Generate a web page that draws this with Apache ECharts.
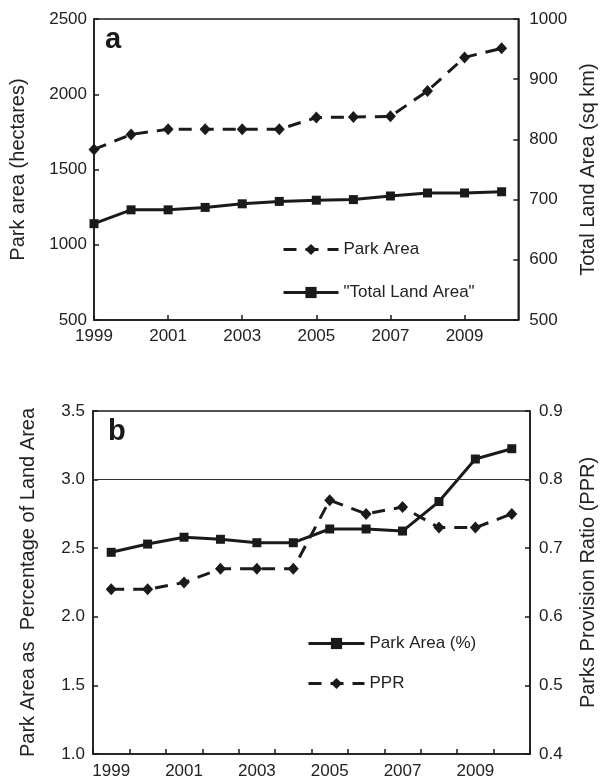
<!DOCTYPE html>
<html>
<head>
<meta charset="utf-8">
<script src="https://cdn.jsdelivr.net/npm/echarts@6/dist/echarts.min.js"></script>
<style>
html,body{margin:0;padding:0;background:#fff;}
#c{width:606px;height:783px;}
</style>
</head>
<body>
<div id="c"></div>
<script>
// ---- data ----
const years = [1999, 2000, 2001, 2002, 2003, 2004, 2005, 2006, 2007, 2008, 2009, 2010];
const parkAreaHa = [1633, 1733, 1767, 1767, 1767, 1767, 1845, 1849, 1853, 2022, 2245, 2305];
const totalLandArea = [660, 683, 683, 687, 693, 697, 699, 700, 706, 711, 711, 713];
const parkAreaPct = [2.47, 2.53, 2.58, 2.565, 2.54, 2.54, 2.64, 2.64, 2.625, 2.84, 3.15, 3.225];
const pprValues = [0.64, 0.64, 0.65, 0.67, 0.67, 0.67, 0.77, 0.75, 0.76, 0.73, 0.73, 0.75];
const refLine = [3.0];
const seriesNamesA = ['Park Area', '"Total Land Area"'];
const seriesNamesB = ['Park Area (%)', 'PPR'];

const FONT = '"Liberation Sans", Arial, sans-serif';
const INK = '#1a1a1a';
const TXT = '#222';

const xOff = years.map(y => y - years[0]);
const pairs = (vals) => vals.map((v, i) => [xOff[i], v]);

const axisText = { color: TXT, fontSize: 17, fontFamily: FONT };
const nameText = { color: TXT, fontSize: 20, fontFamily: FONT };
const axLine = { show: true, lineStyle: { color: INK, width: 1.5 } };
const axTick = { show: true, inside: true, length: 5, lineStyle: { color: INK, width: 1.5 } };
const plain = v => String(v);

const chart = echarts.init(document.getElementById('c'), null, { renderer: 'canvas' });

const option = {
  backgroundColor: '#fff',
  animation: false,
  textStyle: { fontFamily: FONT },
  grid: [
    { left: 93, top: 19, width: 435, height: 301, show: true, borderColor: INK, borderWidth: 1.5, backgroundColor: 'transparent' },
    { left: 93, top: 411, width: 446, height: 343, show: true, borderColor: INK, borderWidth: 1.5, backgroundColor: 'transparent' }
  ],
  legend: [
    {
      data: seriesNamesA, orient: 'vertical', left: 282, top: 241, padding: 0,
      itemWidth: 55, itemHeight: 14, itemGap: 26,
      lineStyle: { width: 3 },
      textStyle: { color: TXT, fontSize: 17, fontFamily: FONT }
    },
    {
      data: seriesNamesB, orient: 'vertical', left: 307, top: 635, padding: 0,
      itemWidth: 56, itemHeight: 14, itemGap: 23,
      lineStyle: { width: 3 },
      textStyle: { color: TXT, fontSize: 17, fontFamily: FONT }
    }
  ],
  xAxis: [
    {
      type: 'value', gridIndex: 0, min: 0, max: 11.45, interval: 2,
      axisLine: axLine, axisTick: axTick, splitLine: { show: false },
      axisLabel: Object.assign({}, axisText, {
        margin: 8, showMaxLabel: false,
        formatter: v => (Number.isInteger(v) && v % 2 === 0) ? String(years[0] + v) : ''
      })
    },
    {
      type: 'category', gridIndex: 1, data: years.map(String), boundaryGap: true,
      axisLine: axLine,
      axisTick: Object.assign({}, axTick, { interval: 0 }),
      splitLine: { show: false },
      axisLabel: Object.assign({}, axisText, { margin: 9, interval: 1 })
    }
  ],
  yAxis: [
    {
      type: 'value', gridIndex: 0, position: 'left', min: 500, max: 2500, interval: 500,
      name: 'Park area (hectares)', nameLocation: 'middle', nameGap: 66, nameTextStyle: nameText,
      axisLine: axLine, axisTick: axTick, splitLine: { show: false },
      axisLabel: Object.assign({}, axisText, { margin: 7, formatter: plain })
    },
    {
      type: 'value', gridIndex: 0, position: 'right', min: 500, max: 1000, interval: 100,
      name: 'Total Land Area (sq km)', nameLocation: 'middle', nameGap: 59, nameRotate: 90, nameTextStyle: nameText,
      axisLine: axLine, axisTick: axTick, splitLine: { show: false },
      axisLabel: Object.assign({}, axisText, { margin: 11, formatter: plain })
    },
    {
      type: 'value', gridIndex: 1, position: 'left', min: 1.0, max: 3.5, interval: 0.5,
      name: 'Park Area as  Percentage of Land Area', nameLocation: 'middle', nameGap: 55, nameTextStyle: nameText,
      axisLine: axLine, axisTick: axTick, splitLine: { show: false },
      axisLabel: Object.assign({}, axisText, { margin: 8, formatter: v => v.toFixed(1) })
    },
    {
      type: 'value', gridIndex: 1, position: 'right', min: 0.4, max: 0.9, interval: 0.1,
      name: 'Parks Provision Ratio (PPR)', nameLocation: 'middle', nameGap: 48, nameRotate: 90, nameTextStyle: nameText,
      axisLine: axLine, axisTick: axTick, splitLine: { show: false },
      axisLabel: Object.assign({}, axisText, { margin: 9, formatter: v => v.toFixed(1) })
    }
  ],
  series: [
    {
      name: seriesNamesA[0], type: 'line', xAxisIndex: 0, yAxisIndex: 0,
      data: pairs(parkAreaHa),
      symbol: 'diamond', symbolSize: [11, 12],
      lineStyle: { color: INK, width: 3, type: [13, 9] },
      itemStyle: { color: INK }
    },
    {
      name: seriesNamesA[1], type: 'line', xAxisIndex: 0, yAxisIndex: 1,
      data: pairs(totalLandArea),
      symbol: 'rect', symbolSize: 9,
      lineStyle: { color: INK, width: 3 },
      itemStyle: { color: INK }
    },
    {
      name: seriesNamesB[0], type: 'line', xAxisIndex: 1, yAxisIndex: 2,
      data: parkAreaPct,
      symbol: 'rect', symbolSize: 9,
      lineStyle: { color: INK, width: 3 },
      itemStyle: { color: INK },
      markLine: {
        silent: true, symbol: 'none', label: { show: false },
        lineStyle: { color: '#333', width: 1.2, type: 'solid' },
        data: refLine.map(v => ({ yAxis: v }))
      }
    },
    {
      name: seriesNamesB[1], type: 'line', xAxisIndex: 1, yAxisIndex: 3,
      data: pprValues,
      symbol: 'diamond', symbolSize: [11, 12],
      lineStyle: { color: INK, width: 3, type: [13, 9] },
      itemStyle: { color: INK }
    }
  ],
  graphic: [
    { type: 'text', left: 105, top: 25, style: { text: 'a', font: 'bold 29px ' + FONT, fill: INK } },
    { type: 'text', left: 108, top: 417, style: { text: 'b', font: 'bold 29px ' + FONT, fill: INK } }
  ]
};
chart.setOption(option);
</script>
</body>
</html>
